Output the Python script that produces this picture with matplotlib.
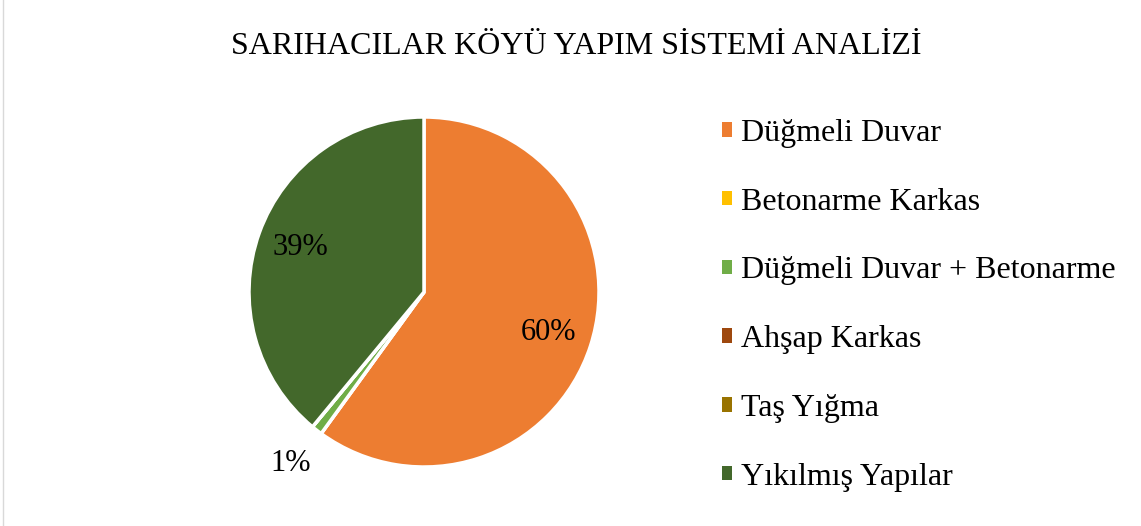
import matplotlib.pyplot as plt
from matplotlib.patches import Patch
from matplotlib.lines import Line2D
import numpy as np

categories = ['Düğmeli Duvar', 'Betonarme Karkas', 'Düğmeli Duvar + Betonarme',
              'Ahşap Karkas', 'Taş Yığma', 'Yıkılmış Yapılar']
values = [60, 0, 1, 0, 0, 39]
colors = ['#ED7D31', '#FFC000', '#70AD47', '#9E480E', '#997300', '#43682B']
title = 'SARIHACILAR KÖYÜ YAPIM SİSTEMİ ANALİZİ'

plt.rcParams['font.family'] = ['Liberation Serif', 'DejaVu Serif']

fig = plt.figure(figsize=(11.41, 5.26), dpi=100)
ax = fig.add_axes([249 / 1141, (526 - 467) / 526, 350 / 1141, 350 / 526])


def pct(p):
    return '%d%%' % round(p) if p > 0.5 else ''


wedges, texts, autotexts = ax.pie(values, colors=colors, startangle=90, counterclock=False,
                                  autopct=pct, pctdistance=0.75,
                                  wedgeprops=dict(edgecolor='white', linewidth=2.5),
                                  textprops=dict(fontsize=22, color='black'))
ax.set_xlim(-1, 1)
ax.set_ylim(-1, 1)

# push the small slice label outside
for w, t, v in zip(wedges, autotexts, values):
    if 0 < v < 5:
        ang = np.deg2rad((w.theta1 + w.theta2) / 2)
        t.set_position((1.24 * np.cos(ang), 1.24 * np.sin(ang)))

fig.text(0.505, 0.912, title, ha='center', va='center', fontsize=23)

handles = [Patch(facecolor=c, edgecolor='none') for c in colors]
fig.legend(handles, categories, loc='upper left', bbox_to_anchor=(709 / 1141, 1 - 106 / 526),
           frameon=False, fontsize=23, handlelength=0.32, handleheight=0.32,
           handletextpad=0.28, labelspacing=1.245, borderaxespad=0)

fig.add_artist(Line2D([3 / 1141, 3 / 1141], [0, 1], color='#D9D9D9', linewidth=1))

plt.savefig('out.png', dpi=100)
